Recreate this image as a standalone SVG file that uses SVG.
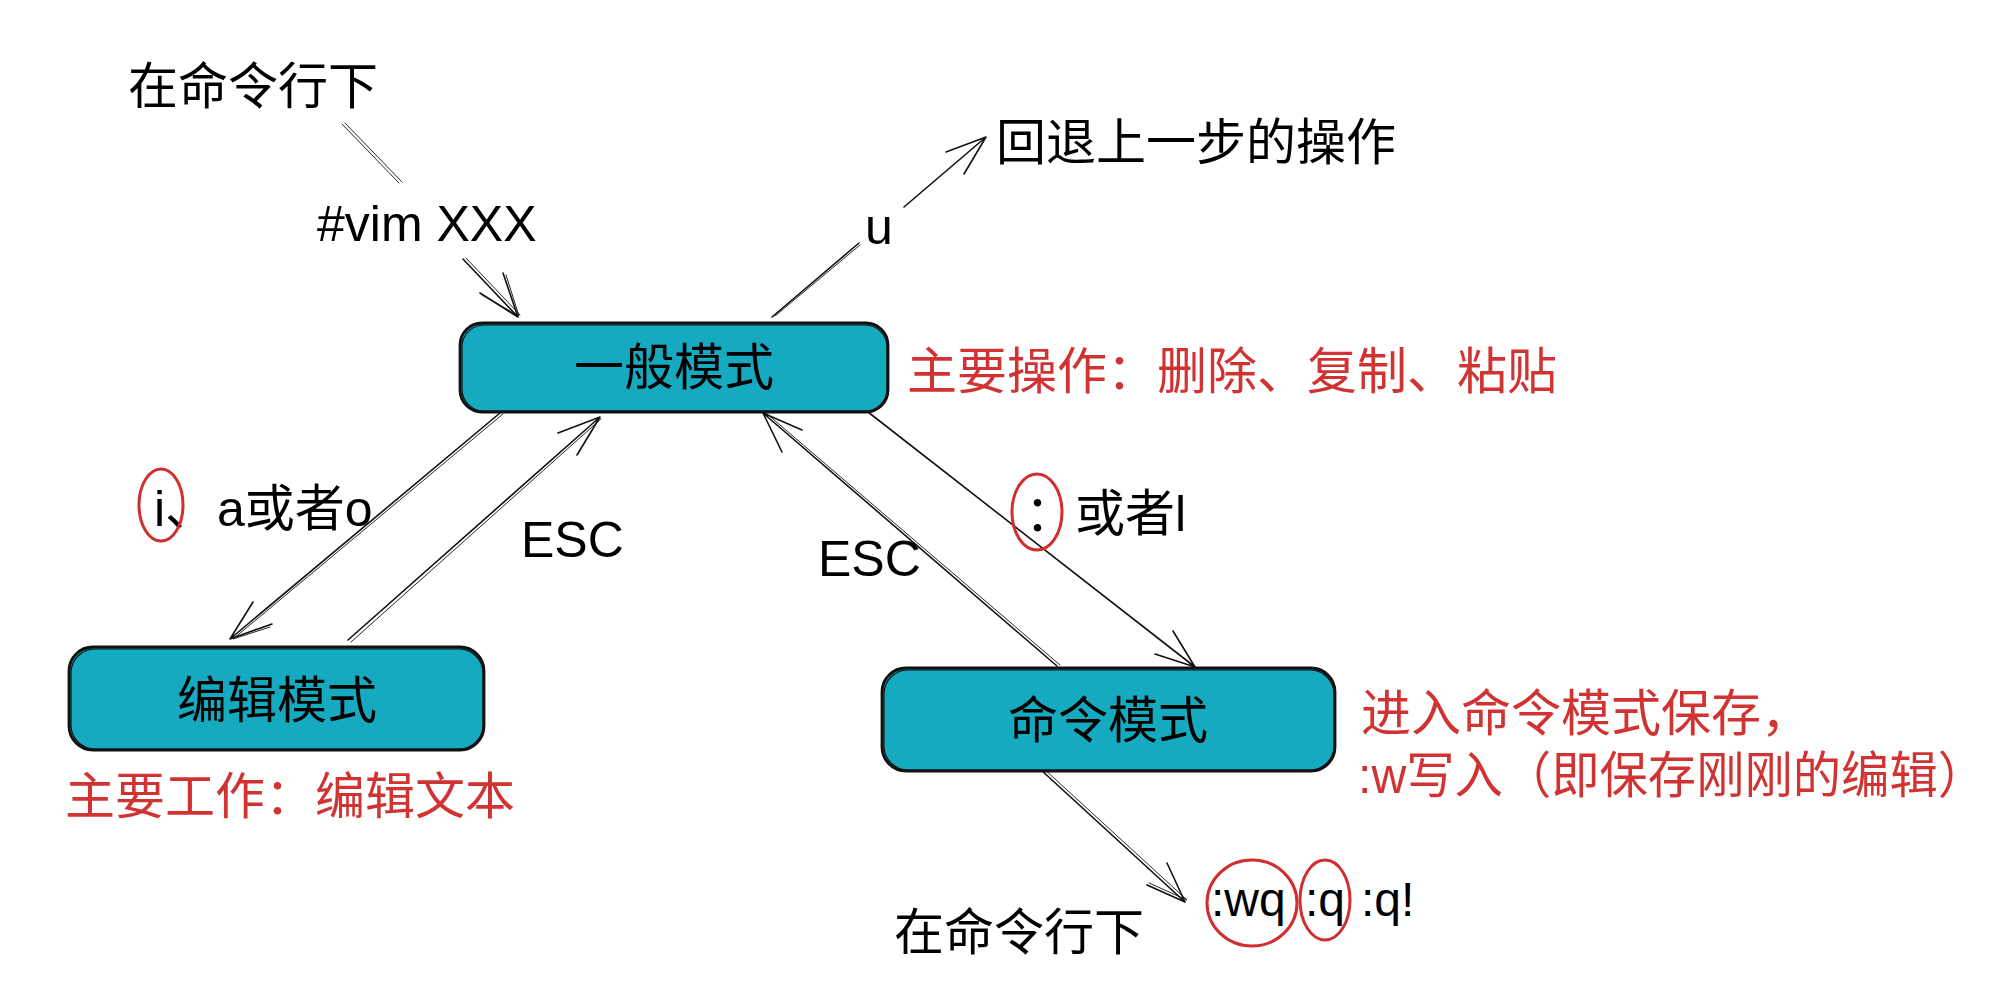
<svg xmlns="http://www.w3.org/2000/svg" width="2004" height="996" viewBox="0 0 2004 996">
<style>
  text { font-family: "Liberation Sans", "Noto Sans CJK SC", sans-serif; font-size: 50px; fill: #000; }
  .red { fill: #d13232; }
  .box { fill: #15aabf; stroke: #111; stroke-width: 2.8; }
  .box2 { fill: none; stroke: #111; stroke-width: 1.2; }
  .ln { fill: none; stroke: #111; stroke-width: 1.6; stroke-linecap: round; stroke-linejoin: round; }
  .ln2 { fill: none; stroke: #111; stroke-width: 0.9; stroke-linecap: round; }
  .oval { fill: none; stroke: #cf2f2f; stroke-width: 3; }
</style>
<rect width="2004" height="996" fill="#fff"/>

<g id="connectors">
  <!-- 在命令行下 to #vim -->
  <path class="ln2" d="M342 124 L399 183"/>
  <path class="ln2" d="M345 123 L402 182"/>
  <!-- #vim -> 一般模式 -->
  <path class="ln" d="M463 259 L518 317 M480 293 L518 317 L503 273"/>
  <path class="ln2" d="M466 258 L520 315 M482 295 L519 316 L506 275"/>
  <!-- u -> 回退上一步的操作 -->
  <path class="ln" d="M772 317 L859 243 M904 207 L986 137 M946 152 L986 137 L964 174"/>
  <path class="ln2" d="M775 316 L860 245"/>
  <!-- 一般模式 -> 编辑模式 -->
  <path class="ln" d="M500 413 L230 639 M253 602 L230 639 L272 624"/>
  <path class="ln2" d="M503 414 L233 639 L270 627"/>
  <!-- 编辑模式 -> 一般模式 (ESC) -->
  <path class="ln" d="M348 640 L600 417 M558 433 L600 417 L577 455"/>
  <path class="ln2" d="M351 642 L601 419"/>
  <!-- 一般模式 -> 命令模式 -->
  <path class="ln" d="M868 412 L1195 667 M1173 631 L1195 667 L1155 654"/>
  <!-- 命令模式 -> 一般模式 (ESC) -->
  <path class="ln" d="M1057 666 L763 413 M782 452 L763 413 L802 430"/>
  <path class="ln2" d="M1060 665 L766 413"/>
  <!-- 命令模式 -> :wq -->
  <path class="ln" d="M1040 769 L1185 902 M1167 863 L1185 902 L1147 885"/>
  <path class="ln2" d="M1043 768 L1187 900 L1149 883"/>
</g>

<g id="node-general">
  <rect class="box" x="460" y="323" width="428" height="89" rx="22"/>
  <rect class="box2" x="462" y="325" width="425" height="86" rx="22"/>
  <text x="674" y="385" text-anchor="middle">一般模式</text>
</g>

<g id="node-edit">
  <rect class="box" x="69" y="647" width="415" height="103" rx="24"/>
  <rect class="box2" x="71" y="649" width="412" height="100" rx="24"/>
  <text x="277" y="718" text-anchor="middle">编辑模式</text>
</g>

<g id="node-command">
  <rect class="box" x="882" y="668" width="453" height="103" rx="24"/>
  <rect class="box2" x="884" y="670" width="450" height="100" rx="24"/>
  <text x="1108" y="738" text-anchor="middle">命令模式</text>
</g>

<g id="labels">
  <text x="128" y="104">在命令行下</text>
  <text x="317" y="241">#vim XXX</text>
  <text x="865" y="244">u</text>
  <text x="996" y="160">回退上一步的操作</text>
  <text class="red" x="907" y="389">主要操作：删除、复制、粘贴</text>
  <text x="154" y="526">i、</text>
  <text x="217" y="526">a或者o</text>
  <text x="521" y="557">ESC</text>
  <text x="818" y="576">ESC</text>
  <text x="1025" y="531">：或者l</text>
  <text class="red" x="65" y="814">主要工作：编辑文本</text>
  <text class="red" x="1361" y="731">进入命令模式保存，</text>
  <text class="red" x="1358" y="793" textLength="628" lengthAdjust="spacingAndGlyphs">:w写入（即保存刚刚的编辑）</text>
  <text x="894" y="950">在命令行下</text>
  <text x="1211" y="916" style="font-size:48px">:wq</text>
  <text x="1305" y="916" style="font-size:48px">:q</text>
  <text x="1361" y="916" style="font-size:48px">:q!</text>
</g>

<g id="highlights">
  <ellipse class="oval" cx="161" cy="505" rx="22" ry="36"/>
  <ellipse class="oval" cx="1037" cy="512" rx="25" ry="38"/>
  <ellipse class="oval" cx="1252" cy="903" rx="45" ry="43"/>
  <ellipse class="oval" cx="1325" cy="900" rx="25" ry="40"/>
</g>
</svg>
